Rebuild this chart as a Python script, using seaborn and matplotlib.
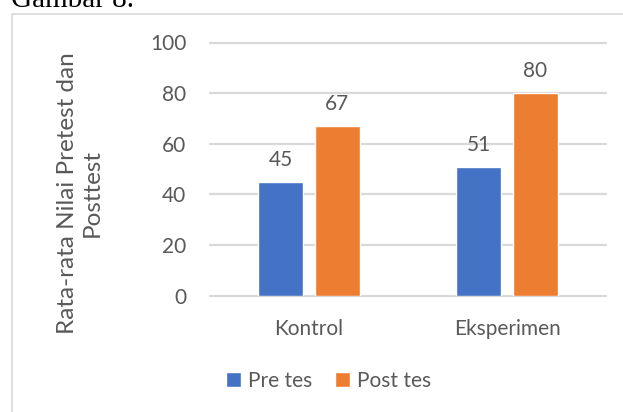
import matplotlib
matplotlib.use("Agg")
import matplotlib.pyplot as plt
from matplotlib.patches import Rectangle
import seaborn as sns
import pandas as pd

# Mean pretest / posttest scores per class
groups = ["Kontrol", "Eksperimen"]
tests = ["Pre tes", "Post tes"]
pre_scores = [45, 51]
post_scores = [67, 80]
y_ticks = [0, 20, 40, 60, 80, 100]

df = pd.DataFrame({
    "Kelas": groups * 2,
    "Tes": [tests[0]] * len(groups) + [tests[1]] * len(groups),
    "Nilai": pre_scores + post_scores,
})

sns.set_theme(style="white")
plt.rcParams["font.family"] = ["Lato", "DejaVu Sans"]

TEXT = "#595959"
GRID = "#D9D9D9"
palette = {"Pre tes": "#4472C4", "Post tes": "#ED7D31"}
FS = 15

W, H = 623, 412
fig = plt.figure(figsize=(W / 100, H / 100), dpi=100)
fig.patch.set_facecolor("white")

# outer chart frame (only its left and top edges fall inside the page crop)
fig.patches.append(Rectangle((12 / W, -0.2), 1.2, 1 - 13.5 / H + 0.2,
                             transform=fig.transFigure, fill=False,
                             edgecolor=GRID, linewidth=1.2))

fig.text(11 / W, 1 - 7 / H, "Gambar 8.", family="Liberation Serif",
         fontsize=21, color="black", ha="left", va="baseline")

ax = fig.add_axes([210 / W, 1 - 295.7 / H, 396 / W, (295.7 - 42.5) / H])
sns.barplot(data=df, x="Kelas", y="Nilai", hue="Tes", order=groups,
            hue_order=tests, palette=palette, width=0.573, gap=0.21,
            saturation=1, errorbar=None, ax=ax, zorder=3)

ax.set_ylim(0, 100)
ax.set_yticks(y_ticks)
ax.set_xlim(-0.5, 1.5)
for s in ax.spines.values():
    s.set_visible(False)
ax.yaxis.grid(True, color=GRID, linewidth=1.6)
for gl in ax.get_ygridlines():
    gl.set_clip_on(False)
ax.set_axisbelow(True)
ax.tick_params(axis="both", length=0, labelsize=FS, labelcolor=TEXT)
ax.tick_params(axis="y", pad=17)
ax.tick_params(axis="x", pad=17)
ax.set_xlabel("")
ax.set_ylabel("")

for cont in ax.containers:
    ax.bar_label(cont, fmt="%d", padding=8.5, fontsize=FS, color=TEXT)

handles, labels = ax.get_legend_handles_labels()
ax.get_legend().remove()
fig.legend(handles, labels, loc="center", bbox_to_anchor=(328.5 / W, 1 - 381 / H),
           ncol=2, frameon=False, fontsize=FS, handlelength=0.7,
           handleheight=0.7, handletextpad=0.35, columnspacing=1.1,
           labelcolor=TEXT)

fig.text(80 / W, 1 - 193 / H, "Rata-rata Nilai Pretest dan\nPosttest",
         rotation=90, ha="center", va="center", multialignment="center",
         fontsize=17.5, color=TEXT, linespacing=1.2)

fig.savefig("out.png", dpi=100, facecolor="white")
